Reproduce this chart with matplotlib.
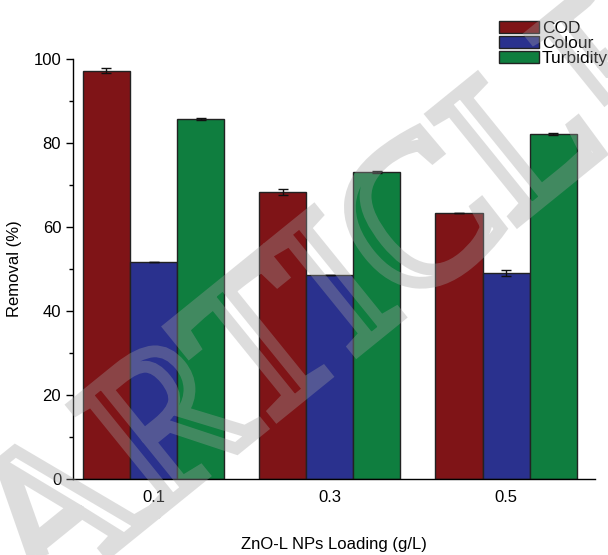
import matplotlib
matplotlib.use("Agg")
import matplotlib.pyplot as plt
import numpy as np
from matplotlib.textpath import TextPath
from matplotlib.patches import PathPatch
from matplotlib.font_manager import FontProperties
from matplotlib.transforms import Affine2D
from matplotlib.ticker import MultipleLocator

plt.rcParams['font.family'] = ['Liberation Sans', 'DejaVu Sans']

# data
loadings = ['0.1', '0.3', '0.5']
series = ['COD', 'Colour', 'Turbidity']
cod = [97.2, 68.3, 63.4]
cod_err = [0.6, 0.6, 0.0]
colour = [51.6, 48.6, 49.1]
colour_err = [0.0, 0.0, 0.7]
turbidity = [85.7, 73.1, 82.1]
turbidity_err = [0.2, 0.2, 0.2]

colors = ['#7f1417', '#2a318e', '#0f7e3f']

fig = plt.figure(figsize=(6.08, 5.55), dpi=100)
ax = fig.add_axes([0.120, 0.137, 0.859, 0.757])

x = np.arange(len(loadings))
width = 0.267
values = [cod, colour, turbidity]
errors = [cod_err, colour_err, turbidity_err]
for i, (vals, errs, name) in enumerate(zip(values, errors, series)):
    ax.bar(x + (i - 1) * width, vals, width, color=colors[i], edgecolor='#222222',
           linewidth=1.0, label=name, yerr=errs, capsize=3.5,
           error_kw=dict(ecolor='#111111', elinewidth=1.0, capthick=1.0))

ax.set_xlim(-0.457, 2.506)
ax.set_ylim(0, 100)
ax.set_xticks(x)
ax.set_xticklabels(loadings)
ax.yaxis.set_major_locator(MultipleLocator(20))
ax.yaxis.set_minor_locator(MultipleLocator(10))
ax.tick_params(axis='x', length=0, pad=8, labelsize=12)
ax.tick_params(axis='y', which='major', length=5, width=1, labelsize=12, direction='out')
ax.tick_params(axis='y', which='minor', length=3, width=1, direction='out')
for s in ['top', 'right']:
    ax.spines[s].set_visible(False)
for s in ['left', 'bottom']:
    ax.spines[s].set_linewidth(1.0)

ax.set_ylabel('Removal (%)', fontsize=12, labelpad=8)
ax.set_xlabel('ZnO-L NPs Loading (g/L)', fontsize=12, labelpad=23)

fig.legend(loc='upper right', bbox_to_anchor=(1.0, 0.962), frameon=False,
           fontsize=12.5, handlelength=2.3, handleheight=0.66, handletextpad=0.17,
           labelspacing=0.0, borderaxespad=0, borderpad=0)

# watermark (hollow letters)
tp = TextPath((0, 0), 'ARTICLE', size=150,
              prop=FontProperties(family='Liberation Serif'))
bb = tp.get_extents()
tr = (Affine2D().translate(-(bb.x0 + bb.x1) / 2, -(bb.y0 + bb.y1) / 2)
      .scale(1 / 72).rotate_deg(39).translate(3.28, 2.68) + fig.dpi_scale_trans)
wm = PathPatch(tp, facecolor='none', edgecolor='#a0a0a0', alpha=0.35,
               linewidth=8.5, transform=tr, zorder=10)
fig.patches.append(wm)

fig.savefig('out.png', dpi=100)
